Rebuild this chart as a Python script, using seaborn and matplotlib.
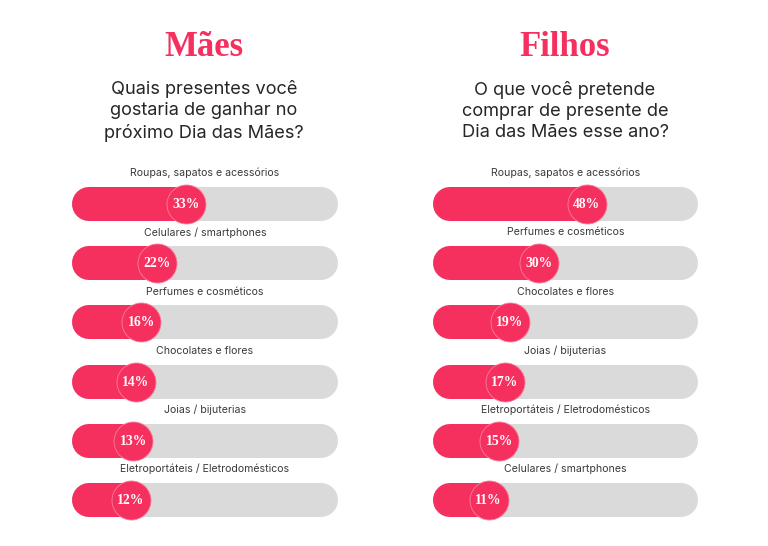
import matplotlib
matplotlib.use("Agg")
import matplotlib.pyplot as plt
import seaborn as sns
import pandas as pd

# ---------------- data ----------------
maes_title = "Mães"
maes_question = "Quais presentes você\ngostaria de ganhar no\npróximo Dia das Mães?"
maes_categories = ["Roupas, sapatos e acessórios", "Celulares / smartphones",
                   "Perfumes e cosméticos", "Chocolates e flores",
                   "Joias / bijuterias", "Eletroportáteis / Eletrodomésticos"]
maes_values = [33, 22, 16, 14, 13, 12]

filhos_title = "Filhos"
filhos_question = "O que você pretende\ncomprar de presente de\nDia das Mães esse ano?"
filhos_categories = ["Roupas, sapatos e acessórios", "Perfumes e cosméticos",
                     "Chocolates e flores", "Joias / bijuterias",
                     "Eletroportáteis / Eletrodomésticos", "Celulares / smartphones"]
filhos_values = [48, 30, 19, 17, 15, 11]

# ---------------- style ----------------
PINK = "#F5305F"
RING = "#F97E9C"
TRACK = "#DADADA"
TXT = "#3A3A3A"
sns.set_theme(style="white")
plt.rcParams["font.family"] = ["Inter", "DejaVu Sans"]

W, H, DPI = 768, 546, 100
fig = plt.figure(figsize=(W / DPI, H / DPI), dpi=DPI, facecolor="white")

XMIN, XMAX = -10, 90         # visual extent of the track in value units
BAR_PX = 34                  # bar thickness in pixels
CIRCLE_PX = 39               # circle diameter in pixels


def panel(left_px, width_px, center_px, title, question, cats, vals):
    y_top, y_bot = 150.7, 529.6
    ax = fig.add_axes([left_px / W, 1 - y_bot / H, width_px / W, (y_bot - y_top) / H])
    ax.set_xlim(XMIN, XMAX)
    ax.set_ylim(len(cats) - 0.5, -0.9)
    ax.axis("off")

    lw = BAR_PX * 72 / DPI
    cap = (BAR_PX / 2) * (XMAX - XMIN) / width_px
    df = pd.DataFrame({"label": cats, "value": vals, "pos": range(len(cats))})

    for _, r in df.iterrows():
        ax.plot([XMIN + cap, XMAX - cap], [r["pos"], r["pos"]], color=TRACK, lw=lw,
                solid_capstyle="round", zorder=1)
        ax.plot([XMIN + cap, r["value"]], [r["pos"], r["pos"]], color=PINK, lw=lw,
                solid_capstyle="round", zorder=2)
        ax.text((XMIN + XMAX) / 2, r["pos"] - 0.52, r["label"], ha="center", va="center",
                fontsize=7.6, color=TXT)

    sns.scatterplot(data=df, x="value", y="pos", ax=ax, s=(CIRCLE_PX * 72 / DPI) ** 2,
                    color=PINK, edgecolor=RING, linewidth=0.6, zorder=3, legend=False)
    for _, r in df.iterrows():
        ax.text(r["value"], r["pos"] + 0.01, f"{r['value']}%", ha="center", va="center",
                fontsize=9.8, color="white", fontweight="bold",
                family=["Liberation Serif", "DejaVu Serif"], zorder=4)
    ax.set_xlabel("")
    ax.set_ylabel("")

    fig.text(center_px / W, 1 - 47 / H, title, ha="center", va="center",
             fontsize=25, fontweight="bold", color=PINK,
             family=["Liberation Serif", "DejaVu Serif"])
    fig.text(center_px / W, 1 - 111 / H, question, ha="center", va="center",
             fontsize=13.1, color="#262626", linespacing=1.34)


panel(72, 266, 204, maes_title, maes_question, maes_categories, maes_values)
panel(433, 265, 565, filhos_title, filhos_question, filhos_categories, filhos_values)

fig.savefig("out.png", dpi=DPI, facecolor="white")
